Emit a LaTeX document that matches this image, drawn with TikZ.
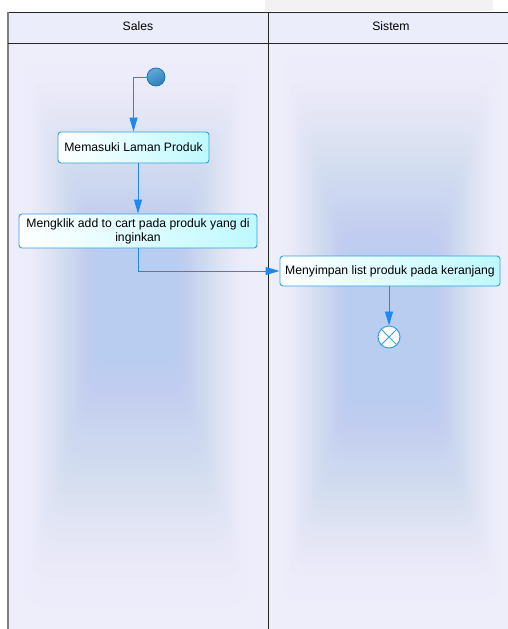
\documentclass[tikz,border=0pt]{standalone}
\usepackage{fontspec}
\setmainfont{Liberation Sans}
\usetikzlibrary{arrows.meta}
\definecolor{lanebg}{HTML}{EEEEFB}
\definecolor{lanecore}{HTML}{B6CDF0}
\definecolor{headbg}{HTML}{ECEDFA}
\definecolor{flow}{HTML}{1E88F0}
\definecolor{actborder}{HTML}{3A9EDC}
\definecolor{actfill}{HTML}{BDF9FF}
\definecolor{startlight}{HTML}{62AADA}
\definecolor{startdark}{HTML}{2E7DB8}
\definecolor{startedge}{HTML}{2670AA}
\definecolor{tabgray}{HTML}{F2F2F2}
\begin{document}
\begin{tikzpicture}[x=1pt,y=-1pt,
  txt/.style={font=\fontsize{12.2}{14}\selectfont},
  activity/.style={txt, draw=actborder, line width=0.9pt, rounded corners=3pt,
    left color=white, right color=actfill, inner sep=2pt, align=center},
  startnode/.style={circle, draw=startedge, line width=0.8pt, minimum size=18pt,
    inner sep=0pt, top color=startlight, bottom color=startdark, shading angle=25},
  endnode/.style={circle, draw=actborder, line width=1pt, fill=white,
    minimum size=22pt, inner sep=0pt},
  flowline/.style={draw=flow, line width=0.9pt, -{Triangle[length=14pt,width=8pt]}},
  laneline/.style={draw=black!85, line width=0.9pt}]
\useasboundingbox (0,0) rectangle (508,629);
% tab strip above the diagram
\fill[tabgray] (265,0) rectangle (493,11);
% swimlane backgrounds
\fill[lanebg] (8,43) rectangle (508,629);
% soft glow in each lane: nested translucent rectangles, denser toward the centre
\foreach \k in {0,...,39}{
  \pgfmathsetmacro\t{(\k/39)^0.6}
  % left lane
  \fill[lanecore, opacity=0.035, rounded corners=14pt]
    ({24+\t*74},{62+\t*185}) rectangle ({248-\t*74},{605-\t*250});
  % right lane
  \fill[lanecore, opacity=0.035, rounded corners=14pt]
    ({282+\t*68},{58+\t*205}) rectangle ({500-\t*68},{598-\t*200});
}
% header row
\fill[headbg] (8,12) rectangle (508,43);
\node[txt] (hsales) at (138,26) {Sales};
\node[txt] (hsistem) at (391,26) {Sistem};
% frame
\draw[laneline] (508,12) -- (8,12) -- (8,629);
\draw[draw=gray, line width=1.6pt] (8,12) -- (8,629);
\draw[laneline] (8,43) -- (508,43);
\draw[laneline] (268,12) -- (268,629);
% nodes
\node[startnode] (start) at (156,77) {};
\node[activity, minimum width=151pt, minimum height=31pt] (b1) at (133.5,147.5) {Memasuki Laman Produk};
\node[activity, minimum width=238pt, minimum height=34pt] (b2) at (138,231) {Mengklik add to cart pada produk yang di\\inginkan};
\node[activity, minimum width=220pt, minimum height=30pt] (b3) at (390,271) {Menyimpan list produk pada keranjang};
\node[endnode] (end) at (389,337) {};
\draw[actborder, line width=1pt] (end.north west) -- (end.south east)
  (end.north east) -- (end.south west);
% flows
\draw[flowline] (start.west) -| (b1.north);
\draw[flowline] (b1.south -| b2.north) -- (b2.north);
\draw[flowline] (b2.south) |- (b3.west);
\draw[flowline] (b3.south -| end.north) -- (end.north);
\end{tikzpicture}
\end{document}
